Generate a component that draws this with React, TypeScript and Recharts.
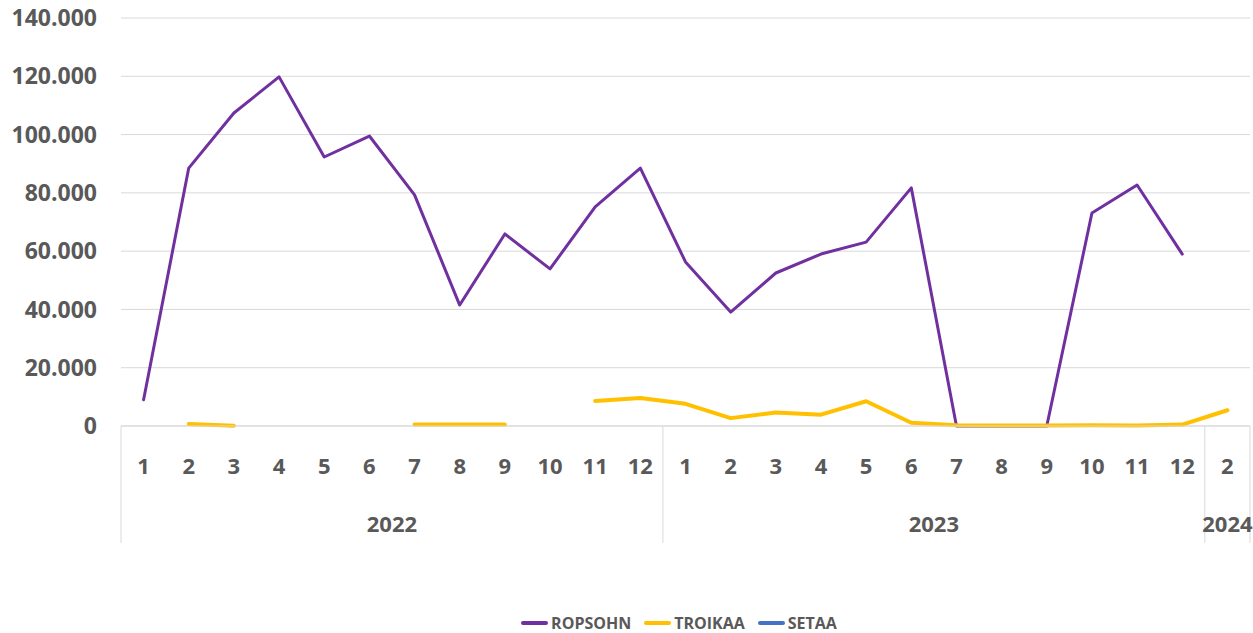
import { LineChart, Line, XAxis, YAxis, CartesianGrid, Legend } from 'recharts';

const years = ['2022', '2022', '2022', '2022', '2022', '2022', '2022', '2022', '2022', '2022', '2022', '2022',
  '2023', '2023', '2023', '2023', '2023', '2023', '2023', '2023', '2023', '2023', '2023', '2023', '2024'];
const months = ['1', '2', '3', '4', '5', '6', '7', '8', '9', '10', '11', '12',
  '1', '2', '3', '4', '5', '6', '7', '8', '9', '10', '11', '12', '2'];

const ropsohn = [9000, 88500, 107400, 119800, 92300, 99500, 79300, 41500, 65900, 53900, 75200, 88500,
  56300, 39100, 52500, 59000, 63100, 81700, 0, 0, 0, 73100, 82700, 59000, null];
const troikaa = [null, 700, 100, null, null, null, 500, 500, 500, null, 8600, 9600,
  7600, 2700, 4600, 3900, 8500, 1100, 300, 200, 200, 300, 200, 500, 5400];
const setaa = [null, null, null, null, null, null, null, null, null, null, null, null,
  null, null, null, null, null, null, null, null, null, null, null, null, null];

const yTicks = [0, 20000, 40000, 60000, 80000, 100000, 120000, 140000];

const SERIES = [
  { key: 'ROPSOHN', color: '#7030A0', width: 3 },
  { key: 'TROIKAA', color: '#FFC000', width: 4 },
  { key: 'SETAA', color: '#4472C4', width: 3 },
];

const data = months.map((m, i) => ({
  id: `${years[i]}-${i}`,
  ROPSOHN: ropsohn[i],
  TROIKAA: troikaa[i],
  SETAA: setaa[i],
}));

const W = 1253;
const H = 633;
const LEFT = 121;
const RIGHT = 3;
const BAND = (W - LEFT - RIGHT) / months.length;
const FONT = '"Open Sans", "Liberation Sans", sans-serif';
const TEXT = '#595959';
const GRID = '#d9d9d9';

const fmt = (v: number) => (v === 0 ? '0' : v.toLocaleString('de-DE'));

function MonthTick(props: any) {
  const { x, y, index } = props;
  const i = index;
  const first = i === 0 || years[i] !== years[i - 1];
  const last = i === months.length - 1;
  let yearLabel = null;
  if (first) {
    let n = 0;
    while (i + n < years.length && years[i + n] === years[i]) n++;
    yearLabel = (
      <text x={x - BAND / 2 + (n * BAND) / 2} y={y + 106} textAnchor="middle"
        fill={TEXT} fontFamily={FONT} fontWeight={700} fontSize={22}>
        {years[i]}
      </text>
    );
  }
  return (
    <g>
      <text x={x} y={y + 48} textAnchor="middle" fill={TEXT} fontFamily={FONT} fontWeight={700} fontSize={22}>
        {months[i]}
      </text>
      {first && <line x1={x - BAND / 2} x2={x - BAND / 2} y1={y} y2={y + 117} stroke={GRID} strokeWidth={1} />}
      {last && <line x1={x + BAND / 2} x2={x + BAND / 2} y1={y} y2={y + 117} stroke={GRID} strokeWidth={1} />}
      {yearLabel}
    </g>
  );
}

function renderLegend() {
  return (
    <div style={{ height: 40, display: 'flex', justifyContent: 'center', alignItems: 'flex-end' }}>
      {SERIES.map((s) => (
        <div key={s.key} style={{ display: 'flex', alignItems: 'center', height: 20, marginRight: 13 }}>
          <span style={{ display: 'inline-block', width: 27, height: 4, background: s.color, borderRadius: 2, marginRight: 3 }} />
          <span style={{ fontFamily: FONT, fontWeight: 700, fontSize: 16, color: TEXT }}>{s.key}</span>
        </div>
      ))}
    </div>
  );
}

export default function App() {
  return (
    <div style={{ position: 'absolute', left: 0, top: 0, width: W, height: H, background: '#fff' }}>
      <LineChart width={W} height={H} data={data} margin={{ top: 18, right: RIGHT, bottom: 0, left: 0 }}>
        <CartesianGrid vertical={false} stroke={GRID} />
        <XAxis dataKey="id" scale="band" interval={0} height={167} tickLine={false} tickSize={0} tickMargin={0}
          axisLine={{ stroke: GRID }} tick={<MonthTick />} />
        <YAxis width={LEFT} domain={[0, 140000]} ticks={yTicks} axisLine={false} tickLine={false}
          tickSize={0} tickMargin={24} tickFormatter={fmt}
          tick={{ fill: TEXT, fontFamily: FONT, fontWeight: 700, fontSize: 23 }} />
        {SERIES.map((s) => (
          <Line key={s.key} dataKey={s.key} stroke={s.color} strokeWidth={s.width} dot={false}
            activeDot={false} strokeLinecap="round" strokeLinejoin="round" isAnimationActive={false} />
        ))}
        <Legend verticalAlign="bottom" content={renderLegend}
          wrapperStyle={{ left: LEFT, width: W - LEFT - RIGHT }} />
      </LineChart>
    </div>
  );
}
